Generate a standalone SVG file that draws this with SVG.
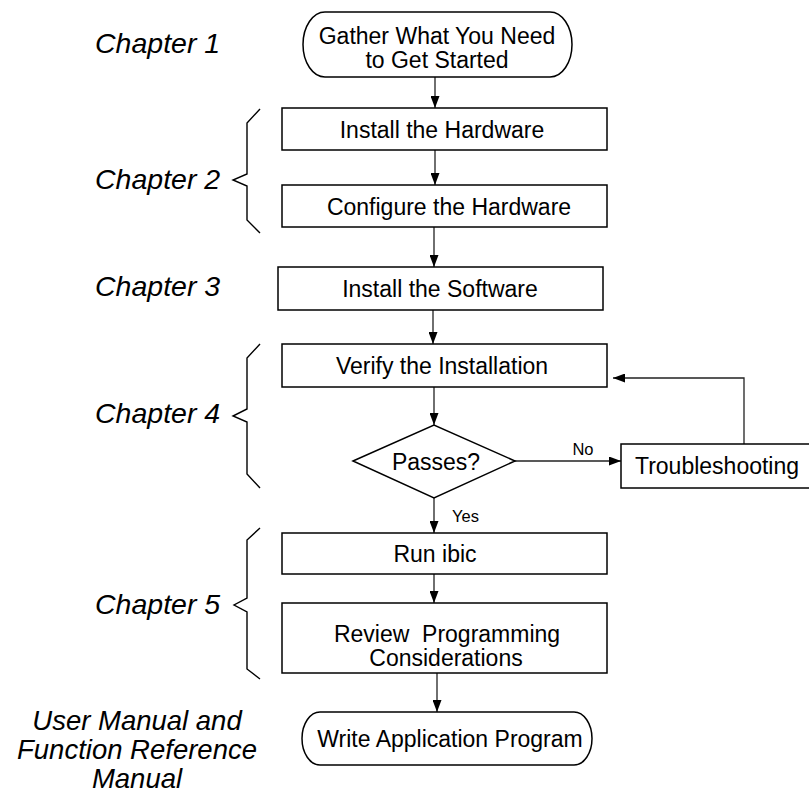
<svg xmlns="http://www.w3.org/2000/svg" width="809" height="795" viewBox="0 0 809 795">
<style>
.box{fill:#fff;stroke:#000;stroke-width:1.5}
.t{font-family:"Liberation Sans",Arial,sans-serif;font-size:23px;fill:#000;text-anchor:middle;white-space:pre}
.ch{font-family:"Liberation Sans",Arial,sans-serif;font-size:28.5px;font-style:italic;fill:#000}
.um{font-family:"Liberation Sans",Arial,sans-serif;font-size:27.5px;font-style:italic;fill:#000;text-anchor:middle}
.lbl{font-family:"Liberation Sans",Arial,sans-serif;font-size:16.5px;fill:#000}
.ln{fill:none;stroke:#222;stroke-width:1.3}
.br{fill:none;stroke:#000;stroke-width:1.4}
</style>
<defs>
<marker id="ah" markerUnits="userSpaceOnUse" markerWidth="12" markerHeight="9" refX="12" refY="4.5" orient="auto">
<path d="M0,0 L12,4.5 L0,9 z" fill="#000"/>
</marker>
</defs>
<rect width="809" height="795" fill="#fff"/>

<g id="labels">
<text class="ch" x="95" y="53">Chapter 1</text>
<text class="ch" x="95" y="189">Chapter 2</text>
<text class="ch" x="95" y="296">Chapter 3</text>
<text class="ch" x="95" y="423">Chapter 4</text>
<text class="ch" x="95" y="614">Chapter 5</text>
<text class="um" x="137" y="730">User Manual and</text>
<text class="um" x="137" y="759">Function Reference</text>
<text class="um" x="137" y="788">Manual</text>
</g>

<g id="braces">
<path class="br" d="M260,109 L247,123 L247,174 L233,180 L247,186 L247,220 L260,233"/>
<path class="br" d="M260,344 L247,358 L247,409 L233,416 L247,422 L247,474 L260,488"/>
<path class="br" d="M260,528 L247,540 L247,598 L234,605 L247,612 L247,669 L260,679"/>
</g>

<g id="connectors">
<line class="ln" x1="435" y1="77" x2="435" y2="108" marker-end="url(#ah)"/>
<line class="ln" x1="435" y1="150" x2="435" y2="185" marker-end="url(#ah)"/>
<line class="ln" x1="434" y1="227" x2="434" y2="267" marker-end="url(#ah)"/>
<line class="ln" x1="433" y1="310" x2="433" y2="344" marker-end="url(#ah)"/>
<line class="ln" x1="434" y1="387" x2="434" y2="425" marker-end="url(#ah)"/>
<line class="ln" x1="515" y1="461" x2="621" y2="461" marker-end="url(#ah)"/>
<polyline class="ln" points="744,444 744,378 613,378" marker-end="url(#ah)"/>
<line class="ln" x1="434" y1="498" x2="434" y2="533" marker-end="url(#ah)"/>
<line class="ln" x1="434" y1="574" x2="434" y2="603" marker-end="url(#ah)"/>
<line class="ln" x1="437" y1="673" x2="437" y2="712" marker-end="url(#ah)"/>
<text class="lbl" x="583" y="455" text-anchor="middle">No</text>
<text class="lbl" x="452" y="522">Yes</text>
</g>

<g id="n-gather">
<rect class="box" x="303" y="12" width="269" height="65" rx="22" ry="32.5"/>
<text class="t" x="437" y="44">Gather What You Need</text>
<text class="t" x="437" y="68">to Get Started</text>
</g>
<g id="n-install-hw">
<rect class="box" x="282" y="108" width="325" height="42"/>
<text class="t" x="442" y="138">Install the Hardware</text>
</g>
<g id="n-config-hw">
<rect class="box" x="282" y="185" width="325" height="42"/>
<text class="t" x="449" y="215">Configure the Hardware</text>
</g>
<g id="n-install-sw">
<rect class="box" x="278" y="267" width="325" height="43"/>
<text class="t" x="440" y="297">Install the Software</text>
</g>
<g id="n-verify">
<rect class="box" x="282" y="344" width="325" height="43"/>
<text class="t" x="442" y="374">Verify the Installation</text>
</g>
<g id="n-passes">
<polygon class="box" points="353,461 434,425 515,461 434,498"/>
<text class="t" x="436" y="470">Passes?</text>
</g>
<g id="n-trouble">
<rect class="box" x="621" y="444" width="192" height="44"/>
<text class="t" x="717" y="474">Troubleshooting</text>
</g>
<g id="n-run">
<rect class="box" x="282" y="533" width="325" height="41"/>
<text class="t" x="435" y="562">Run ibic</text>
</g>
<g id="n-review">
<rect class="box" x="282" y="603" width="325" height="70"/>
<text class="t" x="447" y="642">Review  Programming</text>
<text class="t" x="446" y="666">Considerations</text>
</g>
<g id="n-write">
<rect class="box" x="302" y="712" width="290" height="53" rx="18" ry="26.5"/>
<text class="t" x="450" y="747">Write Application Program</text>
</g>
</svg>
